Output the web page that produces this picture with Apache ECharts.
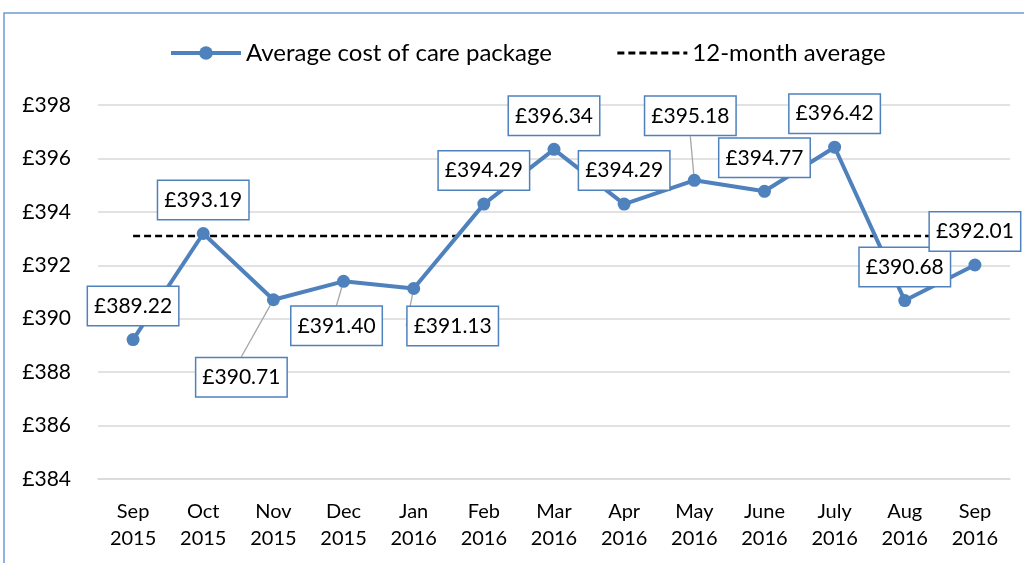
<!DOCTYPE html>
<html>
<head>
<meta charset="utf-8">
<script src="https://cdn.jsdelivr.net/npm/echarts@6/dist/echarts.min.js"></script>
<style>
  html, body { margin: 0; padding: 0; background: #fff; }
  #main { width: 1024px; height: 563px; }
</style>
</head>
<body>
<div id="main"></div>
<script>
// data
const months = ["Sep\n2015", "Oct\n2015", "Nov\n2015", "Dec\n2015", "Jan\n2016", "Feb\n2016",
  "Mar\n2016", "Apr\n2016", "May\n2016", "June\n2016", "July\n2016", "Aug\n2016", "Sep\n2016"];
const avgCost = [389.22, 393.19, 390.71, 391.40, 391.13, 394.29, 396.34, 394.29, 395.18, 394.77, 396.42, 390.68, 392.01];
const twelveMonthAvg = [393.1, 393.1, 393.1, 393.1, 393.1, 393.1, 393.1, 393.1, 393.1, 393.1, 393.1, 393.1, 393.1];

// label nudges (pixels, relative to default "top" place); leader lines where moved
const labelShift = [[0, 0], [0, 0], [-32, 111], [-7, 78], [39, 71], [0, 0], [0, 0], [0, 0], [-4, -31], [0, 0], [0, 0], [0, 0], [0, 0]];
const withLeader = [2, 3, 4, 8];

const FONT = "Lato";
const chart = echarts.init(document.getElementById("main"));

const costData = avgCost.map((v, i) => {
  const item = { value: v };
  if (withLeader.indexOf(i) >= 0) {
    item.labelLine = { show: true, lineStyle: { color: "#a6a6a6", width: 1.3 } };
  }
  return item;
});

const option = {
  animation: false,
  backgroundColor: "#fff",
  textStyle: { fontFamily: FONT },
  graphic: [{
    type: "rect",
    shape: { x: 4, y: 13, width: 1100, height: 700 },
    style: { fill: "none", stroke: "#6f9bd3", lineWidth: 1.5 },
    silent: true
  }],
  legend: {
    top: 36,
    left: 164,
    itemWidth: 70,
    itemHeight: 17,
    itemGap: 64,
    textStyle: { fontFamily: FONT, fontSize: 24, color: "#000" },
    data: [
      { name: "Average cost of care package", lineStyle: { width: 4 } },
      { name: "12-month average", itemStyle: { opacity: 0 }, lineStyle: { width: 3 } }
    ]
  },
  grid: { left: 98, right: 14, top: 105, bottom: 84, containLabel: false },
  xAxis: {
    type: "category",
    data: months,
    axisLine: { lineStyle: { color: "#d9d9d9", width: 1.5 } },
    axisTick: { show: false },
    axisLabel: { fontFamily: FONT, fontSize: 20, color: "#000", lineHeight: 27, margin: 19, interval: 0 }
  },
  yAxis: {
    type: "value",
    min: 384,
    max: 398,
    interval: 2,
    axisLine: { show: false },
    axisTick: { show: false },
    splitLine: { lineStyle: { color: "#d9d9d9", width: 1.5 } },
    axisLabel: { fontFamily: FONT, fontSize: 21, color: "#000", margin: 27, formatter: "£{value}" }
  },
  series: [
    {
      name: "12-month average",
      type: "line",
      data: twelveMonthAvg,
      color: "#000",
      symbol: "none",
      lineStyle: { width: 2.5, color: "#000", type: [7, 4] },
      z: 2
    },
    {
      name: "Average cost of care package",
      type: "line",
      data: costData,
      color: "#4f81bd",
      symbol: "circle",
      symbolSize: 13,
      lineStyle: { width: 4, color: "#4f81bd" },
      itemStyle: { color: "#4f81bd" },
      z: 3,
      label: {
        show: true,
        position: "top",
        distance: 8,
        formatter: p => "£" + p.value.toFixed(2),
        fontFamily: FONT,
        fontSize: 21,
        color: "#000",
        lineHeight: 26,
        backgroundColor: "#fff",
        borderColor: "#4f81bd",
        borderWidth: 1.5,
        padding: [6, 6]
      },
      labelLine: { show: false },
      labelLayout: p => {
        const s = labelShift[p.dataIndex];
        return { dx: s[0], dy: s[1] };
      }
    }
  ]
};

chart.setOption(option);
</script>
</body>
</html>
